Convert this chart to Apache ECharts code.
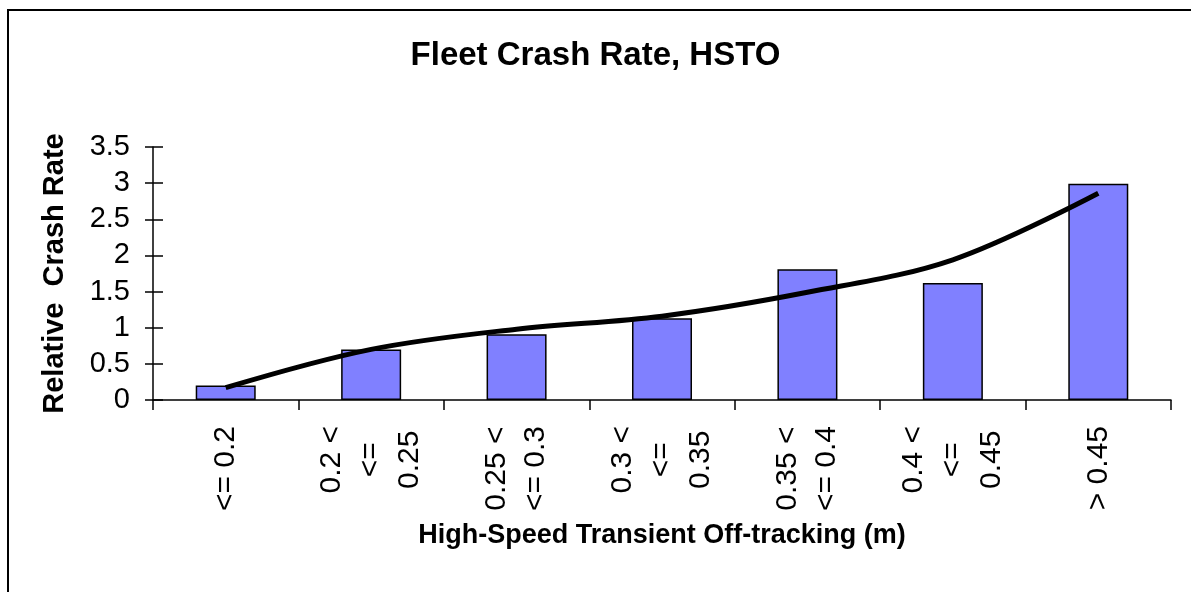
<!DOCTYPE html>
<html>
<head>
<meta charset="utf-8">
<script src="https://cdn.jsdelivr.net/npm/echarts@6/dist/echarts.min.js"></script>
<style>
  html, body { margin: 0; padding: 0; background: #fff; }
  #chart { width: 1191px; height: 592px; }
</style>
</head>
<body>
<div id="chart"></div>
<script>
// categories (multi-line labels as in the original)
const categories = [
  '<= 0.2',
  '0.2 <\n<=\n0.25',
  '0.25 <\n<= 0.3',
  '0.3 <\n<=\n0.35',
  '0.35 <\n<= 0.4',
  '0.4 <\n<=\n0.45',
  '> 0.45'
];
// bar values
const crashRate = [0.2, 0.7, 0.91, 1.13, 1.81, 1.62, 2.99];
// trend line read at category centres
const trend = [0.17, 0.7, 0.98, 1.16, 1.49, 1.94, 2.86];

const font = "'Liberation Sans', Arial, sans-serif";

let myChart = echarts.init(document.getElementById('chart'));
myChart.setOption({
  animation: false,
  backgroundColor: '#fff',
  title: {
    text: 'Fleet Crash Rate, HSTO',
    left: 'center',
    top: 34,
    textStyle: { fontFamily: font, fontSize: 33, fontWeight: 'bold', color: '#000' }
  },
  graphic: [
    {
      type: 'rect',
      shape: { x: 8, y: 10, width: 1300, height: 700 },
      style: { fill: null, stroke: '#000', lineWidth: 2 },
      silent: true
    }
  ],
  grid: { left: 153, right: 20, top: 147, bottom: 192 },
  xAxis: {
    type: 'category',
    data: categories,
    name: 'High-Speed Transient Off-tracking (m)',
    nameLocation: 'middle',
    nameGap: 122,
    nameTextStyle: { fontFamily: font, fontSize: 27, fontWeight: 'bold', color: '#000' },
    axisLine: { lineStyle: { color: '#000', width: 1.5 } },
    axisTick: { show: true, length: 10, lineStyle: { color: '#000', width: 1.5 } },
    axisLabel: {
      rotate: 90,
      margin: 26,
      interval: 0,
      color: '#000',
      formatter: function (v) {
        return v.split('\n').map(function (s) { return '{c|' + s + '}'; }).join('\n');
      },
      rich: {
        c: { align: 'center', fontFamily: font, fontSize: 30, lineHeight: 39, color: '#000' }
      }
    }
  },
  yAxis: [
    {
      type: 'value',
      min: 0,
      max: 3.5,
      interval: 0.5,
      name: 'Relative  Crash Rate',
      nameLocation: 'middle',
      nameGap: 84,
      nameTextStyle: { fontFamily: font, fontSize: 29, fontWeight: 'bold', color: '#000' },
      axisLine: { show: true, lineStyle: { color: '#000', width: 1.5 } },
      axisTick: { show: true, length: 8, lineStyle: { color: '#000', width: 1.5 } },
      axisLabel: { margin: 23, fontFamily: font, fontSize: 29, color: '#000' },
      splitLine: { show: false }
    },
    {
      // inner half of the crossing ticks
      type: 'value',
      position: 'left',
      min: 0,
      max: 3.5,
      interval: 0.5,
      axisLine: { show: false },
      axisTick: { show: true, inside: true, length: 10, lineStyle: { color: '#000', width: 1.5 } },
      axisLabel: { show: false },
      splitLine: { show: false }
    }
  ],
  series: [
    {
      name: 'Crash rate',
      type: 'bar',
      data: crashRate,
      barWidth: 60,
      itemStyle: { color: '#8080FF', borderColor: '#000', borderWidth: 1.5 }
    },
    {
      name: 'Trend',
      type: 'line',
      data: trend,
      smooth: 0.35,
      symbol: 'none',
      z: 5,
      lineStyle: { color: '#000', width: 5 }
    }
  ]
});
</script>
</body>
</html>
